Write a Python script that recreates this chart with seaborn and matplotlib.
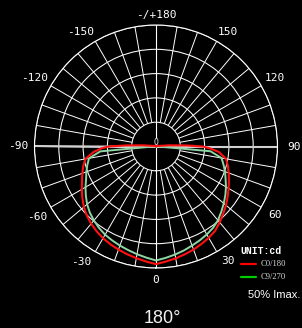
import numpy as np
import matplotlib
matplotlib.use("Agg")
import matplotlib.pyplot as plt
from matplotlib.lines import Line2D
import seaborn as sns
import pandas as pd

# ---- data (relative to the Imax ring = 1.0) ----
c0_angles = [-180, -150, -120, -100, -95, -92, -90, -88, -85, -80, -75, -70, -65, -60, -55, -50,
             -45, -40, -35, -30, -25, -20, -15, -10, -5, 0, 5, 10, 15, 20, 25, 30, 35, 40, 45,
             50, 55, 60, 65, 70, 75, 80, 85, 88, 90, 92, 95, 100, 120, 150, 180]
c0_180 = [0.0, 0.005, 0.01, 0.03, 0.11, 0.25, 0.39, 0.45, 0.515, 0.59, 0.62, 0.645, 0.672, 0.705,
          0.74, 0.775, 0.805, 0.83, 0.852, 0.872, 0.888, 0.903, 0.918, 0.933, 0.95, 0.968, 0.95,
          0.935, 0.918, 0.903, 0.885, 0.868, 0.848, 0.815, 0.782, 0.752, 0.72, 0.69, 0.662, 0.637,
          0.612, 0.585, 0.52, 0.445, 0.385, 0.25, 0.11, 0.03, 0.01, 0.005, 0.0]
c9_angles = [-180, -120, -100, -90, -85, -80, -75, -70, -65, -60, -55, -50, -45, -40, -35, -30,
             -25, -20, -15, -10, -5, 0, 5, 10, 15, 20, 25, 30, 35, 40, 45, 50, 55, 60, 65, 70,
             75, 80, 85, 90, 100, 120, 180]
c9_270 = [0.0, 0.0, 0.0, 0.02, 0.46, 0.56, 0.585, 0.61, 0.635, 0.67, 0.705, 0.74, 0.77, 0.795,
          0.818, 0.838, 0.853, 0.868, 0.883, 0.9, 0.918, 0.938, 0.92, 0.903, 0.886, 0.868, 0.852,
          0.836, 0.818, 0.793, 0.76, 0.728, 0.697, 0.665, 0.632, 0.605, 0.575, 0.548, 0.45, 0.02,
          0.0, 0.0, 0.0]
ring_values = [0.2, 0.4, 0.6, 0.8, 1.0]
angle_ticks = [0, 30, 60, 90, 120, 150, 180, -150, -120, -90, -60, -30]
angle_labels = ["0", "30", "60", "90", "120", "150", "-/+180", "-150", "-120", "-90", "-60", "-30"]
series_names = ["C0/180", "C9/270"]

sns.set_style("dark", {"axes.facecolor": "black", "figure.facecolor": "black"})

W, H = 302, 328
fig = plt.figure(figsize=(W / 100, H / 100), dpi=100, facecolor="black")
cx, cy, R = 156.0, 146.5, 121.5
ax = fig.add_axes([(cx - R) / W, 1 - (cy + R) / H, 2 * R / W, 2 * R / H], projection="polar")
ax.set_facecolor("black")
ax.set_theta_zero_location("S")
ax.set_theta_direction(1)
ax.set_ylim(0, 1)
ax.set_yticks(ring_values)
ax.set_yticklabels([])
ax.set_xticks([])
ax.xaxis.grid(False)
ax.yaxis.grid(True, color="white", lw=0.75)
ax.spines["polar"].set_color("white")
ax.spines["polar"].set_linewidth(0.8)

# spokes every 10 degrees from the inner ring outward
spokes = np.deg2rad(np.arange(0, 360, 10))
ax.vlines(spokes, 0.2, 1.0, colors="white", lw=0.7, zorder=1)
ax.vlines([0, np.pi], 0, 1, colors="white", lw=0.8, zorder=1)
ax.vlines([np.pi / 2, -np.pi / 2], 0, 1.01, colors="#d0d0d0", lw=1.5, zorder=1)

ax.text(np.pi, 0.032, "0", color="white", fontsize=5.5, ha="center", va="center",
        zorder=2.5, bbox=dict(facecolor="black", edgecolor="none", pad=0.2))

label_nudge = {-150: (-4, 0), -120: (-3, 0), -30: (-3, -1), -60: (0, -2), 0: (0, -2)}
for a, lab in zip(angle_ticks, angle_labels):
    shift = 2.0 * np.sign(a) if abs(a) in (30, 150) else 0.0
    if abs(a) == 150:
        shift = -shift
    th = np.deg2rad(a + shift)
    rr = 1.085 + 0.05 * abs(np.sin(th))
    ax.annotate(lab, xy=(th, rr), xytext=label_nudge.get(a, (0, 0)), textcoords="offset pixels",
                color="white", fontsize=8, ha="center", va="center", family="DejaVu Sans Mono",
                annotation_clip=False)

df0 = pd.DataFrame({"theta": np.deg2rad(c0_angles), "r": c0_180})
df9 = pd.DataFrame({"theta": np.deg2rad(c9_angles), "r": c9_270})
sns.lineplot(data=df9, x="theta", y="r", ax=ax, sort=False, estimator=None,
             color="#8fd6a4", lw=1.4, legend=False, zorder=3)
sns.lineplot(data=df0, x="theta", y="r", ax=ax, sort=False, estimator=None,
             color="#ff1010", lw=1.5, legend=False, zorder=4)
ax.set_xlabel("")
ax.set_ylabel("")
ax.set_ylim(0, 1)

# legend block
fig.text(240.5 / W, 1 - 251 / H, "UNIT:cd", color="white", fontsize=7, family="Liberation Mono",
         weight="bold", ha="left", va="center")
for yy, col, name in [(263.5, "#ff0000", series_names[0]), (276.5, "#00cc00", series_names[1])]:
    fig.add_artist(Line2D([240.5 / W, 255.5 / W], [1 - yy / H] * 2, color=col, lw=1.6,
                          transform=fig.transFigure))
    fig.text(261 / W, 1 - (yy + 0.5) / H, name, color="#d8d8d8", fontsize=6.1,
             family="Liberation Serif", ha="left", va="center")

fig.text(247.5 / W, 1 - 294.5 / H, "50% Imax.", color="white", fontsize=8,
         family="Liberation Sans", ha="left", va="center")
fig.text(143.5 / W, 1 - 318.5 / H, "180°", color="#f0f0f0", fontsize=13,
         family="Liberation Sans", ha="left", va="center")

fig.savefig("out.png", dpi=100, facecolor="black")
